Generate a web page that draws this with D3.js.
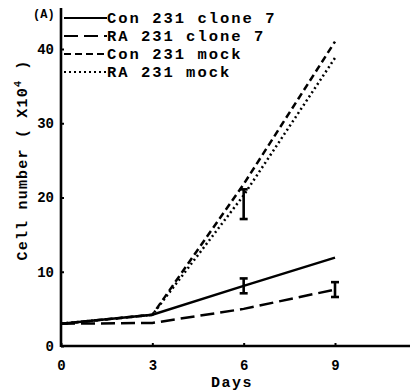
<!DOCTYPE html>
<html><head><meta charset="utf-8">
<script src="https://cdn.jsdelivr.net/npm/d3@7/dist/d3.min.js"></script>
<style>body{margin:0;background:#fff}svg{display:block}</style>
</head><body><svg id="c" width="410" height="392"></svg>
<script>
const days = [0, 3, 6, 9];
const seriesNames = ["Con 231 clone 7", "RA 231 clone 7", "Con 231 mock", "RA 231 mock"];
const conClone = [3.0, 4.2, 8.1, 11.9];
const raClone = [3.0, 3.1, 5.0, 7.6];
const conMock = [3.0, 4.2, 21.8, 41.0];
const raMock = [3.0, 4.2, 20.3, 38.8];
const errDays = [6, 9, 6];
const errMeans = [8.1, 7.6, 19.1];
const errSd = [1.0, 1.0, 2.0];
const xTicks = [0, 3, 6, 9];
const yTicks = [0, 10, 20, 30, 40];

const svg = d3.select("#c");
const x = d3.scaleLinear().domain([0, 9]).range([61, 335]);
const y = d3.scaleLinear().domain([0, 40]).range([346, 49]);
const font = "'Liberation Mono', 'Courier New', monospace";
const dashes = [null, "14,6", "7,4", "2,3"];
const allSeries = [conClone, raClone, conMock, raMock];

// axes lines
svg.append("line").attr("x1", x(0)).attr("x2", 410).attr("y1", y(0)).attr("y2", y(0))
  .attr("stroke", "#000").attr("stroke-width", 2.6);
svg.append("line").attr("x1", x(0)).attr("x2", x(0)).attr("y1", y(0)+1).attr("y2", 8)
  .attr("stroke", "#000").attr("stroke-width", 2.6);

// ticks
const xa = svg.append("g").attr("transform", `translate(0,${y(0)})`)
  .call(d3.axisBottom(x).tickValues(xTicks).tickSize(-3).tickPadding(14).tickFormat(d3.format("d")));
xa.select(".domain").remove();
xa.selectAll("line").attr("stroke-width", 2);
xa.selectAll("text").attr("font-family", font).attr("font-weight", "bold").attr("font-size", 14);
const ya = svg.append("g").attr("transform", `translate(${x(0)},0)`)
  .call(d3.axisLeft(y).tickValues(yTicks).tickSize(-3).tickPadding(7).tickFormat(d3.format("d")));
ya.select(".domain").remove();
ya.selectAll("line").attr("stroke-width", 2);
ya.selectAll("text").attr("font-family", font).attr("font-weight", "bold").attr("font-size", 14);

// axis titles
svg.append("text").attr("x", 232).attr("y", 387).attr("text-anchor", "middle")
  .attr("font-family", font).attr("font-weight", "bold").attr("font-size", 15).attr("letter-spacing", 1.5).text("Days");
const yt = svg.append("text").attr("transform", "translate(27,160) rotate(-90)").attr("text-anchor", "middle")
  .attr("font-family", font).attr("font-weight", "bold").attr("font-size", 15).attr("letter-spacing", 1.2);
yt.append("tspan").text("Cell number ( X10");
yt.append("tspan").attr("dy", -6).attr("font-size", 10).text("4");
yt.append("tspan").attr("dy", 6).text(" )");

svg.append("text").attr("x", 33).attr("y", 18).attr("font-family", font).attr("font-weight", "bold")
  .attr("font-size", 12).text("(A)");

// lines
const line = d3.line().x((d, i) => x(days[i])).y(d => y(d));
allSeries.forEach((s, k) => {
  svg.append("path").attr("d", line(s)).attr("fill", "none").attr("stroke", "#000")
    .attr("stroke-width", 2.5).attr("stroke-dasharray", dashes[k]);
});

// error bars
errDays.forEach((d, i) => {
  const cx = x(d), y1 = y(errMeans[i] + errSd[i]), y2 = y(errMeans[i] - errSd[i]);
  const g = svg.append("g").attr("stroke", "#000").attr("stroke-width", 2.6);
  g.append("line").attr("x1", cx).attr("x2", cx).attr("y1", y1).attr("y2", y2);
  g.append("line").attr("x1", cx-4).attr("x2", cx+4).attr("y1", y1).attr("y2", y1);
  g.append("line").attr("x1", cx-4).attr("x2", cx+4).attr("y1", y2).attr("y2", y2);
});

// legend
seriesNames.forEach((n, k) => {
  const ly = 18 + k * 18;
  svg.append("line").attr("x1", 64).attr("x2", 107).attr("y1", ly).attr("y2", ly)
    .attr("stroke", "#000").attr("stroke-width", 2.2).attr("stroke-dasharray", dashes[k]);
  svg.append("text").attr("x", 107).attr("y", ly + 5).attr("font-family", font).attr("font-weight", "bold")
    .attr("font-size", 15.5).attr("letter-spacing", 2.0).text(n);
});
</script></body></html>
